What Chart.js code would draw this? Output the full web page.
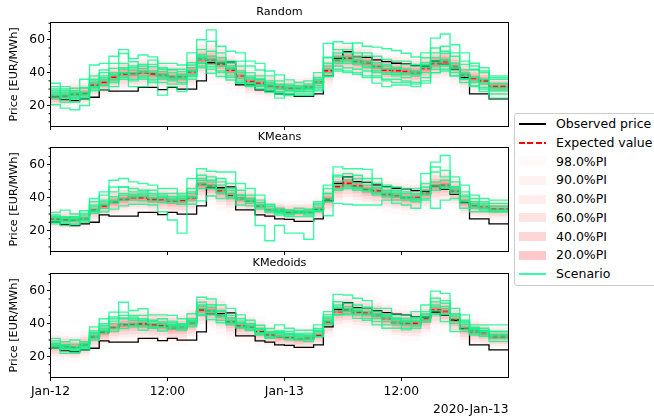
<!DOCTYPE html>
<html lang="en">
<head>
<meta charset="UTF-8">
<title>Price scenarios</title>
<script src="https://cdn.jsdelivr.net/npm/chart.js"></script>
<style>
  html, body { margin: 0; padding: 0; background: #fff; }
  body { width: 654px; height: 419px; overflow: hidden; position: relative; font-family: "DejaVu Sans", sans-serif; }
  canvas { position: absolute; left: 0; }
  #legend { position: absolute; left: 514px; top: 113px; width: 160px; height: 173px; border: 1px solid #cccccc; border-radius: 3px; background: #fff; box-sizing: border-box; }
  .handle { position: absolute; left: 4px; width: 27px; }
  .label { position: absolute; left: 41px; font-size: 12.5px; line-height: 14px; white-space: nowrap; color: #000; }
</style>
</head>
<body>
<canvas id="c-random" width="520" height="167" style="top:0px"></canvas>
<canvas id="c-kmeans" width="520" height="167" style="top:125px"></canvas>
<canvas id="c-kmedoids" width="520" height="167" style="top:251px"></canvas>
<div id="legend"></div>
<script>
// hours since 2020-01-12 00:00
const hours = Array.from({ length: 48 }, (_, i) => i);
const xTickHours = [0, 12, 24, 36];
const xTickLabels = ["Jan-12", "12:00", "Jan-13", "12:00"];
const yTickValues = [20, 40, 60];
const yMinorTicks = [10, 15, 25, 30, 35, 45, 50, 55, 65, 70];
const offsetLabel = "2020-Jan-13";
const panelTitles = ["Random", "KMeans", "KMedoids"];

const observed = [24, 25, 23.5, 23, 24, 25, 29.5, 28.7, 28.7, 28.7, 31, 31, 29.7, 31, 30, 30, 35, 46, 46, 46.5, 32.5, 32.5, 29.5, 28.7,
  27, 26.7, 25.5, 25.5, 27, 38, 48.7, 52.7, 49.7, 49.3, 47.7, 46.7, 45.7, 45.3, 44.2, 44, 47, 45, 42, 37, 27, 27, 24, 24];

const expectedRandom = [26.8, 25.4, 25.8, 26.8, 27.4, 32.5, 34, 37.2, 39.2, 39.2, 40, 39.2, 38.6, 37.2, 37.2, 40.6, 48, 47.7, 45.3, 41.6, 38, 34.5, 33.5, 31.9,
  31, 30.5, 30.5, 31, 34, 41.2, 47.7, 48.7, 46.7, 46, 43.6, 41.6, 41.2, 40.6, 40, 42.6, 45.7, 46.7, 43.6, 38.6, 36.5, 35, 31.5, 31.5];
const expectedKMeans = [27.9, 26.9, 26.5, 26.5, 27.3, 32.3, 35, 37.4, 39, 40, 40, 39, 38.6, 38, 38, 40, 48, 47, 44, 41.4, 39.5, 38, 35, 32.5,
  32, 31, 31.3, 31.3, 33, 39, 46.7, 48.7, 47, 45, 44, 42, 41, 40, 40, 42.6, 47, 47.5, 44, 37.4, 35, 34, 33, 33];
const expectedKMedoids = [27, 26.5, 26, 25.5, 27, 32, 35, 37.6, 39.2, 39.6, 39.6, 39.2, 38.8, 37.6, 37.6, 40.2, 48.3, 47.7, 45.3, 41.2, 38.6, 38, 35, 33,
  32, 31.5, 30.7, 31, 33, 41, 47.3, 48.3, 47, 46.3, 45, 43.2, 40.8, 40.2, 40.2, 42.8, 48.3, 47.3, 42.2, 37.2, 35.2, 34.1, 32, 32];

// half width of the 98% interval, read per hour
const spreadRandom = [9, 9, 9, 9, 9, 10, 10, 11, 11, 11, 11, 11, 11, 11, 11, 12, 13, 13, 13, 12, 11, 10, 10, 9,
  8, 8, 8, 8, 9, 11, 12, 12, 12, 12, 12, 12, 12, 12, 12, 12, 13, 13, 12, 11, 10, 10, 9, 9];
const spreadKMeans = [7, 7, 7, 7, 7, 8, 9, 10, 10, 10, 10, 10, 10, 10, 10, 11, 12, 12, 12, 11, 10, 9, 8, 7,
  7, 7, 7, 7, 8, 10, 12, 12, 12, 11, 11, 11, 11, 11, 11, 11, 12, 12, 11, 10, 9, 8, 8, 8];
const spreadKMedoids = [9, 9, 9, 9, 9, 9, 10, 10, 11, 11, 11, 11, 11, 11, 11, 11, 12, 12, 12, 11, 10, 9, 9, 8,
  8, 8, 8, 8, 8, 10, 11, 11, 11, 11, 11, 11, 11, 11, 11, 11, 12, 12, 11, 10, 9, 9, 8, 8];

const piLabels = ["98.0%PI", "90.0%PI", "80.0%PI", "60.0%PI", "40.0%PI", "20.0%PI"];
const piRatios = [1, 0.707, 0.551, 0.362, 0.225, 0.109];

const scenariosRandom = [
  [35.5, 33.5, 31.5, 30.5, 36, 44.6, 45.6, 50, 54, 48.6, 50.7, 49.6, 45.6, 45.6, 44.6, 52, 60, 66, 56, 53, 52, 47, 45.6, 41,
   38.6, 35.6, 34, 35, 40, 49, 58.8, 57.8, 52, 50, 46, 45, 43, 42, 40, 45, 52, 56, 50, 45, 42, 40, 37, 37],
  [21.8, 20.4, 18.4, 17.4, 20, 31.5, 29.5, 31.5, 39.6, 31.5, 31.5, 36, 26.3, 31.5, 28.5, 37.6, 45.6, 39.6, 37.6, 35.5, 33.5, 31.5, 31.5, 28,
   24.5, 27, 28.5, 28.5, 31, 37.6, 42, 41, 40, 37, 33.6, 31.5, 32.5, 32.5, 31.5, 33.6, 40, 42, 38, 36, 31.5, 28.5, 24.5, 24.5],
  [29.5, 31.5, 30, 26, 30.5, 38, 41.6, 45.6, 51.6, 46.6, 42.6, 47.6, 40.6, 41.6, 40.6, 44.6, 54, 59, 52, 45.6, 47, 44, 41.6, 38,
   32.5, 31, 30.5, 32, 35, 57.8, 54, 52, 58, 56, 55.5, 54.5, 53.5, 51.8, 49.5, 52, 61, 63.5, 57, 52, 45.7, 43, 38, 38],
  [25, 27, 22, 24, 28, 33, 38, 42.6, 45.6, 41.6, 40, 43.6, 38, 36, 37, 41, 48, 43.6, 44, 42, 36.5, 38, 36, 33,
   28.5, 29, 28.5, 30, 33.6, 49.4, 50, 45.7, 46, 44, 41, 40, 39, 40, 41, 44, 47, 51.8, 45.7, 41.6, 41.6, 35.6, 33.6, 33.6],
  [31, 29, 27, 28, 27, 34, 36, 38, 42, 40, 44, 41, 42, 38, 39, 46, 50, 48, 47, 44, 40, 36, 35, 34,
   33, 32, 31, 31, 36, 45.7, 48, 50, 48, 47, 44, 42, 42, 45, 45, 46, 49, 48, 44, 39, 37, 36, 33, 33],
  [27, 25, 26, 24, 26, 31, 33, 36, 38, 39, 37, 38, 36, 35, 34, 39, 46, 47, 44, 40, 38, 34, 33, 31,
   30, 29, 29.5, 28.5, 32, 40, 45.7, 47, 45, 43, 40, 39, 38, 37, 38, 40, 44, 45, 41.6, 38, 35, 33, 30, 30],
  [33, 30, 28, 29, 31, 36, 40, 39, 43, 44, 45, 45, 43, 42, 42, 43, 51, 53, 49, 47, 44, 40, 38, 35,
   35, 33, 32, 33, 37, 44, 52, 54, 50, 52, 50, 48, 47, 47, 44, 49, 55, 53, 52, 47, 44, 41, 36, 36],
  [28, 26, 25, 27, 25, 30, 35, 34, 37, 36, 38, 35, 37, 37, 36, 38, 44, 45, 41, 38, 35, 33, 32, 30,
   28, 27, 27, 27, 30, 38, 44, 43, 42, 41, 38, 36, 36, 35, 34, 37, 42, 44, 40, 36, 34, 31, 29, 29],
  [30, 28, 29, 25, 28, 35, 37, 40, 40, 43, 41, 40, 39, 40, 38, 41, 49, 50, 46, 43, 41, 37, 36, 32,
   31, 30, 31, 30, 34, 42, 47, 48, 47, 46, 43, 44, 40, 39, 39, 43, 46, 47, 43, 40, 37, 34, 31, 31],
  [26, 24, 24, 22, 24, 29, 32, 35, 36, 35, 36, 34, 34, 33, 33, 36, 43, 42, 40, 37, 34, 32, 30, 29,
   27, 26, 26, 26, 29, 37.6, 41, 40, 39, 38, 37, 35, 34, 34, 33, 35, 40, 41, 38, 34, 32, 30, 27, 27]
];
const scenariosKMeans = [
  [23.4, 24, 23, 24, 26, 31.4, 31.4, 33, 35, 36, 36, 35.5, 31.4, 26.4, 18.4, 36, 38, 41, 39.5, 39.5, 35.5, 35, 23, 13.7,
   23, 18.4, 18.4, 14.7, 32, 29, 36.5, 36, 35.5, 35.5, 35.5, 38.5, 36.5, 35.5, 33.5, 38.5, 33.5, 38.5, 39.5, 33.5, 31.4, 31.4, 31.4, 31.4],
  [30.4, 31, 32.4, 30, 32, 39.5, 43.5, 50.6, 51.6, 49.6, 48.6, 47.6, 45.5, 45.5, 42.5, 51.6, 57.6, 56, 55.6, 55.6, 48.6, 45.5, 41.5, 36,
   31.4, 30.4, 30.4, 31.4, 37.5, 47.6, 58.7, 57.6, 57.6, 57.2, 51.6, 47.6, 46.5, 45.5, 45.5, 54.6, 61.6, 65.6, 52.6, 47.6, 41.5, 39.5, 38.5, 38.5],
  [28.4, 28, 28.4, 27, 28, 35.5, 38.5, 46.5, 46.5, 45.5, 44.5, 42.5, 41.5, 40.5, 39.5, 43.5, 51.6, 52.6, 49.6, 45.5, 41.5, 39.5, 35.5, 33,
   31, 30, 30.5, 30.5, 33.5, 42.5, 52.6, 52.6, 51.6, 49.6, 46.5, 44.5, 42.5, 40.5, 39.5, 46.5, 55.6, 52.6, 46.5, 41.5, 36.5, 35.5, 35, 35],
  [26.4, 26, 25.4, 26.4, 27.4, 33, 36, 38.5, 41.5, 41, 40.5, 40, 40, 38.5, 39.5, 40.5, 47.6, 46.5, 45, 42.5, 40, 38, 35, 32,
   32, 31.4, 31.4, 31.4, 33.5, 38.5, 47.6, 47.6, 46.5, 45.5, 42.5, 42.5, 41.5, 39.5, 38.5, 42.5, 47.6, 46.5, 45.5, 38.5, 35.5, 34, 33, 33],
  [27.4, 27, 27.4, 25.4, 26.4, 32, 35.5, 37.5, 39.5, 40, 41.5, 39.5, 38.5, 38, 37.5, 40, 48.6, 47.6, 43.5, 42, 39.5, 38, 34, 32.4,
   30.4, 29.4, 30.4, 29.4, 32.4, 39.5, 45.5, 46.5, 45.5, 44.5, 43.5, 41.5, 40.5, 40.5, 39.5, 41.5, 46.5, 47.6, 44, 37.5, 34.5, 33.5, 32.4, 32.4],
  [29.4, 28.4, 28, 28.4, 29.4, 34.5, 37.5, 40.5, 42.5, 42, 42.5, 41.5, 40.5, 39.5, 40.5, 42.5, 50.6, 49.6, 47.6, 44.5, 41.5, 39.5, 37, 34.5,
   32.4, 32.4, 32, 32.4, 35.5, 42.5, 49.6, 50.6, 48.6, 47.6, 45.5, 43.5, 43.5, 42.5, 41.5, 44.5, 49.6, 50.6, 46.5, 40.5, 37.5, 36.5, 34.5, 34.5],
  [25.4, 25, 24.4, 23.4, 25, 30.4, 33.5, 36.5, 38.5, 38.5, 38, 37.5, 37, 36.5, 36, 38.5, 45.5, 45.5, 42.5, 40.5, 38.5, 36.5, 33, 31,
   29.4, 28.4, 28.4, 28.4, 31.4, 37.5, 44.5, 45.5, 44.5, 43.5, 41.5, 40.5, 38.5, 38.5, 37.5, 39.5, 44.5, 45.5, 42.5, 36.5, 33.5, 32.4, 31.4, 31.4],
  [28, 29.4, 26.4, 28, 30.4, 37.5, 41.5, 43.5, 46.5, 43.5, 43.5, 44.5, 42.5, 42.5, 41.5, 45.5, 53.6, 50.6, 51.6, 48.6, 44.5, 41.5, 38.5, 35.5,
   33.5, 32.4, 33.5, 33, 36.5, 45.5, 53.6, 54.6, 53.6, 51.6, 48.6, 46.5, 44.5, 43.5, 42.5, 48.6, 58.6, 56.6, 49.6, 43.5, 39.5, 37.5, 36.5, 36.5]
];
const scenariosKMedoids = [
  [30, 31, 29, 30, 29, 38, 43, 47, 53, 48, 49, 45.3, 45.3, 45, 43, 46, 56, 55, 51.3, 49.3, 45.3, 42, 39, 37,
   39.2, 37.2, 36, 36, 39.2, 47.3, 57.8, 57.4, 55.4, 54, 49.3, 49.3, 45.3, 45.3, 47.3, 51.3, 59.8, 58.4, 49.3, 45.3, 39.2, 39.2, 39.2, 39.2],
  [25, 26, 22, 22, 24, 31, 35.2, 35.2, 37, 39, 36, 37.2, 35.5, 37.5, 37.2, 39.2, 45.3, 42.5, 40.5, 39.2, 37.5, 36, 33, 31,
   32.1, 30.1, 30.1, 29.1, 32.1, 39.2, 45.3, 45.3, 43.2, 42, 39.2, 37.2, 37.2, 36.2, 37.2, 41.2, 45.3, 41.2, 35.2, 35.2, 33.1, 32.1, 29.1, 29.1],
  [28, 28, 26, 26, 27, 34, 39, 43, 47, 45, 45, 42, 43, 41.5, 40, 43, 53, 51.5, 48, 45, 43, 40, 37, 35,
   35.2, 34, 33, 33, 36, 44, 53.3, 52.4, 51.3, 50, 47.3, 45.3, 43.2, 42, 44, 47.3, 55.4, 54, 45.3, 41.2, 37.2, 36, 35.2, 35.2],
  [26, 28, 25, 25, 26, 33, 37, 40, 43, 42, 41, 40, 40, 39, 38.5, 41, 49, 48, 45.3, 42, 40, 38, 36, 34,
   34, 33, 32, 32, 35.2, 42, 49.3, 49.3, 47.3, 46, 45, 43.2, 41.2, 40.5, 41.2, 44, 50, 49.3, 43.2, 39.5, 36.2, 35.2, 33.1, 33.1],
  [27, 26.5, 24, 23.5, 25, 32, 36, 38, 40, 40, 39, 38.5, 38, 38, 37.5, 40, 47, 46, 44, 41, 38.5, 37, 34.5, 32.5,
   33, 32.1, 31, 31, 33.5, 41.2, 47.3, 47.3, 46, 45.3, 43.2, 41.2, 40.5, 39.2, 39.2, 42.5, 48, 47, 41.2, 37.5, 35.2, 34, 32, 32],
  [29, 29.5, 27, 27.5, 28, 35.5, 40, 44, 45, 44, 43, 41.2, 41, 40.5, 39.5, 42, 50.5, 50, 47.3, 43.5, 41.5, 39, 37, 35,
   35.5, 35.2, 34, 34, 37, 45.3, 51.3, 50.5, 49.3, 49.3, 46, 45, 43.5, 43.2, 43.2, 46, 53.3, 52.4, 46, 42, 37.8, 37.2, 35.2, 35.2],
  [26, 25, 25, 24, 26, 30, 34, 37, 39, 38, 38, 37.5, 37.5, 36.5, 36, 38, 45, 45.3, 42, 40, 37.5, 36, 33.5, 31.5,
   32, 31, 30.1, 30.1, 32.1, 40, 45.3, 46, 45.3, 43.2, 41.2, 39.2, 39.2, 37.2, 38.5, 41, 46, 45.3, 40, 36.5, 34, 33, 31, 31],
  [28, 27, 27, 25, 27, 34.5, 38, 41.5, 43.5, 43, 42, 40, 39.5, 39.5, 39, 41.5, 51.3, 47.3, 45.3, 43.5, 40.5, 38.5, 36, 34,
   34.5, 33.5, 33.1, 32.6, 35, 43.2, 50, 48.3, 48.3, 47.3, 44.5, 44, 42.5, 41.2, 42, 45.3, 51.3, 50.5, 44.5, 40.5, 36.5, 35.5, 33.5, 33.5]
];

// styles
const FONT = "'DejaVu Sans', sans-serif";
const SCEN_COLOR = "rgba(0, 248, 140, 0.78)";
const piAlphas = [0.025, 0.05, 0.07, 0.11, 0.16, 0.21];
Chart.defaults.font.family = FONT;

function pts(arr) {
  return hours.map((h, i) => ({ x: h, y: arr[i] }));
}

function stepLine(arr, color, width, extra) {
  return Object.assign({
    data: pts(arr),
    borderColor: color,
    borderWidth: width,
    stepped: "after",
    fill: false,
    pointRadius: 0,
  }, extra || {});
}

const framePlugin = {
  id: "frame",
  afterDraw(chart, args, opts) {
    const { ctx, chartArea: a } = chart;
    const y = chart.scales.y;
    ctx.save();
    ctx.strokeStyle = "#000";
    ctx.lineWidth = 1;
    ctx.strokeRect(a.left, a.top, a.right - a.left, a.bottom - a.top);
    yMinorTicks.forEach((v) => {
      const py = y.getPixelForValue(v);
      ctx.beginPath();
      ctx.moveTo(a.left - 2, py);
      ctx.lineTo(a.left, py);
      ctx.stroke();
    });
    ctx.fillStyle = "#000";
    ctx.font = "11.2px " + FONT;
    ctx.textAlign = "center";
    ctx.textBaseline = "alphabetic";
    ctx.fillText(opts.title, (a.left + a.right) / 2, a.top - 7.8);
    if (opts.offsetLabel) {
      ctx.font = "12.3px " + FONT;
      ctx.textAlign = "right";
      ctx.fillText(opts.offsetLabel, a.right, 161.5);
    }
    ctx.restore();
  },
};

function makePanel(id, title, expected, spread, scenarios, last) {
  const datasets = [];
  scenarios.forEach((s) => datasets.push(stepLine(s, SCEN_COLOR, 1.4)));
  datasets.push(stepLine(expected, "#ff0000", 1.8, { borderDash: [5, 2.5] }));
  datasets.push(stepLine(observed, "#000000", 1.3));
  piRatios.forEach((r, k) => {
    const upper = expected.map((e, i) => e + spread[i] * r);
    const lower = expected.map((e, i) => e - spread[i] * r);
    datasets.push(stepLine(upper, "rgba(0,0,0,0)", 0, { fill: "+1", backgroundColor: `rgba(255,0,0,${piAlphas[k]})` }));
    datasets.push(stepLine(lower, "rgba(0,0,0,0)", 0));
  });

  new Chart(document.getElementById(id), {
    type: "line",
    data: { datasets },
    plugins: [framePlugin],
    options: {
      responsive: false,
      animation: false,
      devicePixelRatio: 1,
      layout: { padding: { top: 22.5, right: 11.5, left: 0, bottom: 0 } },
      plugins: {
        legend: { display: false },
        tooltip: { enabled: false },
        frame: { title: title, offsetLabel: last ? offsetLabel : null },
      },
      scales: {
        x: {
          type: "linear",
          min: 0,
          max: 47,
          afterBuildTicks: (s) => { s.ticks = xTickHours.map((v) => ({ value: v })); },
          afterFit: (s) => { s.height = 40.5; },
          ticks: {
            display: last,
            callback: (v, i) => xTickLabels[i],
            font: { size: 12.3 },
            color: "#000",
            padding: 3,
            maxRotation: 0,
            autoSkip: false,
          },
          grid: { drawOnChartArea: false, drawTicks: true, tickLength: 3.5, tickColor: "#000", tickWidth: 1 },
          border: { display: false },
        },
        y: {
          min: 7.2,
          max: 70.5,
          afterBuildTicks: (s) => { s.ticks = yTickValues.map((v) => ({ value: v })); },
          afterFit: (s) => { s.width = 50.5; },
          ticks: { font: { size: 12.3 }, color: "#000", padding: 2 },
          grid: { drawOnChartArea: false, drawTicks: true, tickLength: 3.5, tickColor: "#000", tickWidth: 1 },
          border: { display: false },
          title: {
            display: true,
            text: "Price [EUR/MWh]",
            color: "#000",
            font: { size: 11.2 },
            padding: { top: 7.3, bottom: 0 },
          },
        },
      },
    },
  });
}

makePanel("c-random", panelTitles[0], expectedRandom, spreadRandom, scenariosRandom, false);
makePanel("c-kmeans", panelTitles[1], expectedKMeans, spreadKMeans, scenariosKMeans, false);
makePanel("c-kmedoids", panelTitles[2], expectedKMedoids, spreadKMedoids, scenariosKMedoids, true);

// legend
const legendItems = [
  { label: "Observed price", kind: "line", color: "#000" },
  { label: "Expected value", kind: "dash", color: "#ff0000" },
  ...piLabels.map((l, k) => ({ label: l, kind: "patch", color: `rgba(255,0,0,${piAlphas[k]})` })),
  { label: "Scenario", kind: "line", color: SCEN_COLOR },
];
const legend = document.getElementById("legend");
legendItems.forEach((item, i) => {
  const cy = 10 + 18.75 * i;
  const h = document.createElement("div");
  h.className = "handle";
  if (item.kind === "line") {
    h.style.top = cy - 0.75 + "px";
    h.style.height = "1.5px";
    h.style.background = item.color;
  } else if (item.kind === "dash") {
    h.style.top = cy - 1 + "px";
    h.style.height = "2px";
    h.style.background = `repeating-linear-gradient(to right, ${item.color} 0 5.5px, transparent 5.5px 8.5px)`;
  } else {
    h.style.top = cy - 4.5 + "px";
    h.style.height = "9px";
    h.style.background = item.color;
  }
  legend.appendChild(h);
  const t = document.createElement("div");
  t.className = "label";
  t.style.top = cy - 7 + "px";
  t.textContent = item.label;
  legend.appendChild(t);
});
</script>
</body>
</html>
